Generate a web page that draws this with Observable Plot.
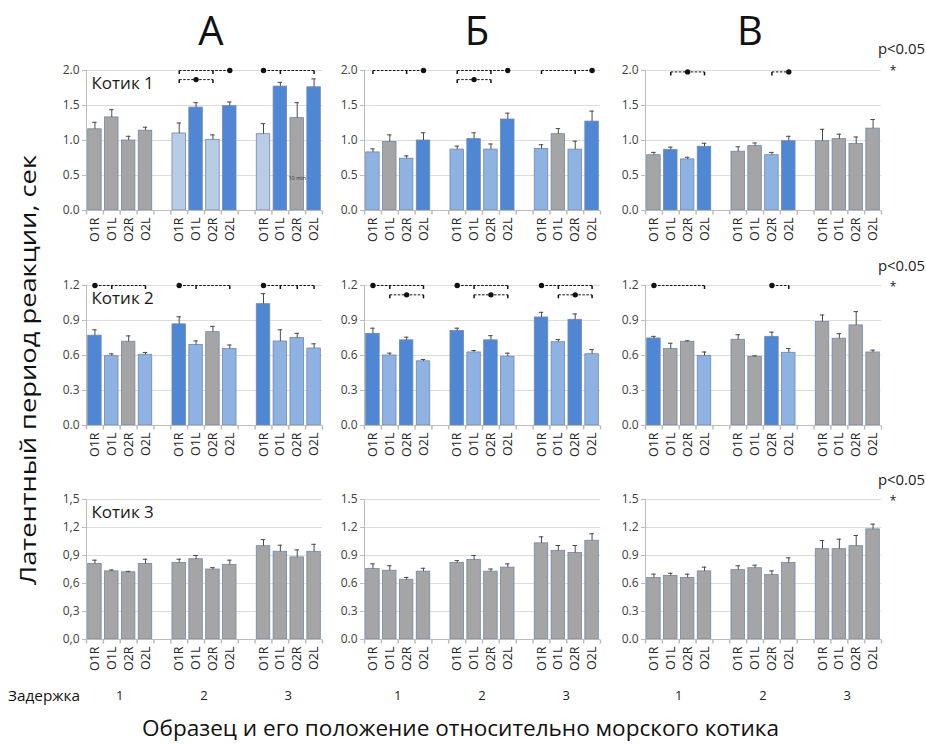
<!DOCTYPE html>
<html><head><meta charset="utf-8">
<script src="https://cdn.jsdelivr.net/npm/d3@7"></script>
<script src="https://cdn.jsdelivr.net/npm/@observablehq/plot@0.6"></script>
<style>
body{margin:0;background:#fff;}
#root{position:relative;width:926px;height:745px;overflow:hidden;background:#fff;font-family:"Open Sans",sans-serif}
#root > svg, #root > div{position:absolute}
</style></head><body><div id="root"></div>
<script>
// ---------- categories ----------
const samples = ["O1R","O1L","O2R","O2L"];
const delays = [1,2,3];
const columnTitles = ["А","Б","В"];
const animals = ["Котик 1","Котик 2","Котик 3"];
const yMax = [2.0, 1.2, 1.5];
const yTicks = [[0,0.5,1,1.5,2],[0,0.3,0.6,0.9,1.2],[0,0.3,0.6,0.9,1.2,1.5]];
const yLabel = "Латентный период реакции, сек";
const xLabel = "Образец и его положение относительно морского котика";
const delayLabel = "Задержка";
const sigLabel = "p<0.05";
const sigStar = "*";
const note10 = "10 min";

// ---------- values (order: delay 1 O1R,O1L,O2R,O2L, delay 2 ..., delay 3 ...) ----------
// colour codes: g = grey, d = dark blue, m = mid blue, p = pale blue
const k1A_mean = [1.16,1.33,1.00,1.14, 1.10,1.47,1.01,1.49, 1.09,1.77,1.32,1.76];
const k1A_err  = [0.10,0.11,0.06,0.05, 0.15,0.07,0.07,0.06, 0.15,0.06,0.22,0.12];
const k1A_col  = ["g","g","g","g", "p","d","p","d", "p","d","g","d"];
const k1B_mean = [0.83,0.98,0.74,1.00, 0.87,1.02,0.87,1.30, 0.88,1.09,0.87,1.27];
const k1B_err  = [0.05,0.10,0.04,0.11, 0.05,0.09,0.08,0.09, 0.06,0.08,0.12,0.15];
const k1B_col  = ["m","g","m","d", "m","d","m","d", "m","g","m","d"];
const k1C_mean = [0.79,0.865,0.73,0.91, 0.84,0.92,0.79,0.99, 0.99,1.02,0.95,1.17];
const k1C_err  = [0.04,0.04,0.03,0.05, 0.07,0.045,0.04,0.07, 0.17,0.07,0.10,0.13];
const k1C_col  = ["g","d","m","d", "g","g","m","d", "g","g","g","g"];

const k2A_mean = [0.77,0.594,0.718,0.606, 0.867,0.69,0.80,0.655, 1.04,0.72,0.75,0.66];
const k2A_err  = [0.05,0.02,0.05,0.02, 0.065,0.035,0.05,0.035, 0.09,0.10,0.04,0.04];
const k2A_col  = ["d","m","g","m", "d","m","g","m", "d","m","m","m"];
const k2B_mean = [0.786,0.60,0.73,0.55, 0.81,0.626,0.73,0.59, 0.926,0.714,0.906,0.611];
const k2B_err  = [0.048,0.02,0.027,0.016, 0.024,0.017,0.04,0.03, 0.044,0.023,0.05,0.04];
const k2B_col  = ["d","m","d","m", "d","m","d","m", "d","m","d","m"];
const k2C_mean = [0.746,0.655,0.718,0.597, 0.735,0.589,0.76,0.623, 0.887,0.744,0.858,0.626];
const k2C_err  = [0.018,0.05,0.008,0.033, 0.043,0.008,0.04,0.037, 0.06,0.043,0.118,0.02];
const k2C_col  = ["d","g","g","m", "g","g","d","m", "g","g","g","g"];

const k3A_mean = [0.81,0.73,0.72,0.81, 0.82,0.86,0.75,0.80, 1.00,0.94,0.88,0.94];
const k3A_err  = [0.04,0.015,0.01,0.05, 0.04,0.04,0.02,0.05, 0.07,0.07,0.08,0.08];
const k3B_mean = [0.755,0.737,0.64,0.727, 0.82,0.853,0.727,0.77, 1.03,0.95,0.928,1.058];
const k3B_err  = [0.055,0.053,0.025,0.036, 0.025,0.047,0.028,0.04, 0.07,0.057,0.079,0.075];
const k3C_mean = [0.66,0.68,0.66,0.73, 0.746,0.764,0.69,0.82, 0.968,0.968,1.00,1.18];
const k3C_err  = [0.04,0.03,0.04,0.045, 0.044,0.032,0.045,0.055, 0.092,0.107,0.114,0.056];
const k3_col   = ["g","g","g","g", "g","g","g","g", "g","g","g","g"];

// significance brackets: delay, level, reference (dot), compared bars (ticks)
const k1A_sig = [{d:2,y:2.0,dot:"O2L",ticks:["O1R","O2R"]},{d:2,y:1.87,dot:"O1L",ticks:["O1R","O2R"]},{d:3,y:2.0,dot:"O1R",ticks:["O1L","O2L"]}];
const k1B_sig = [{d:1,y:2.0,dot:"O2L",ticks:["O1R","O2R"]},{d:2,y:2.0,dot:"O2L",ticks:["O1R","O2R"]},{d:2,y:1.87,dot:"O1L",ticks:["O1R","O2R"]},{d:3,y:2.0,dot:"O2L",ticks:["O1R","O2R"]}];
const k1C_sig = [{d:1,y:1.98,dot:"O2R",ticks:["O1L","O2L"]},{d:2,y:1.98,dot:"O2L",ticks:["O2R"]}];
const k2A_sig = [{d:1,y:1.2,dot:"O1R",ticks:["O1L","O2L"]},{d:2,y:1.2,dot:"O1R",ticks:["O1L","O2L"]},{d:3,y:1.2,dot:"O1R",ticks:["O1L","O2R","O2L"]}];
const k2B_sig = [{d:1,y:1.2,dot:"O1R",ticks:["O1L","O2L"]},{d:1,y:1.12,dot:"O2R",ticks:["O1L","O2L"]},
                 {d:2,y:1.2,dot:"O1R",ticks:["O1L","O2L"]},{d:2,y:1.12,dot:"O2R",ticks:["O1L","O2L"]},
                 {d:3,y:1.2,dot:"O1R",ticks:["O1L","O2L"]},{d:3,y:1.12,dot:"O2R",ticks:["O1L","O2L"]}];
const k2C_sig = [{d:1,y:1.2,dot:"O1R",ticks:["O2L"]},{d:2,y:1.2,dot:"O2R",ticks:["O2L"]}];

const k1A_note = [{d:3,s:"O2R",y:0.46,t:note10}];

// ---------- assembly ----------
const MEANS = [[k1A_mean,k1B_mean,k1C_mean],[k2A_mean,k2B_mean,k2C_mean],[k3A_mean,k3B_mean,k3C_mean]];
const ERRS  = [[k1A_err,k1B_err,k1C_err],[k2A_err,k2B_err,k2C_err],[k3A_err,k3B_err,k3C_err]];
const COLS  = [[k1A_col,k1B_col,k1C_col],[k2A_col,k2B_col,k2C_col],[k3_col,k3_col,k3_col]];
const SIGS  = [[k1A_sig,k1B_sig,k1C_sig],[k2A_sig,k2B_sig,k2C_sig],[[],[],[]]];
const NOTES = [[k1A_note,[],[]],[[],[],[]],[[],[],[]]];

const PALETTE = {g:"#a5a5a5", d:"#4f87d5", m:"#8eb3e2", p:"#b8cce6"};
const EDGE = "#7088ad", ERRC = "#4a4a4a", AXIS = "#bcbcbc", GRID = "#dcdcdc", INK = "#111";

const ROW_TOP = [70, 285, 499];
const COL_AXIS = [86, 364, 645];
const ML = 40, MR = 10, MT = 22, MB = 44, IW = 236, IH = 140;
const FONT = '"Open Sans", sans-serif';

const root = document.getElementById("root");
const key = (d, s) => `${d}|${s}`;
const domain = [];
delays.forEach((d, gi) => { if (gi) domain.push(`gap${gi}`); samples.forEach(s => domain.push(key(d, s))); });
const realKeys = domain.filter(k => k.includes("|"));
const step = IW / domain.length;
const stub = len => ({draw(ctx){ ctx.moveTo(0, 0); ctx.lineTo(0, len); }});

const groupCenters = [];

function drawPanel(r, c) {
  const mean = MEANS[r][c], err = ERRS[r][c], col = COLS[r][c], sig = SIGS[r][c], notes = NOTES[r][c];
  const rows = [];
  delays.forEach((d, gi) => samples.forEach((s, si) => {
    const i = gi * samples.length + si;
    rows.push({k: key(d, s), v: mean[i], e: err[i], f: PALETTE[col[i]]});
  }));
  const order = s => samples.indexOf(s);
  const lines = sig.map(b => {
    const all = [...b.ticks, b.dot].sort((a, z) => order(a) - order(z));
    return {k1: key(b.d, all[0]), k2: key(b.d, all[all.length - 1]), y: b.y};
  });
  const stubs = sig.flatMap(b => b.ticks.map(s => ({k: key(b.d, s), y: b.y})));
  const dots = sig.map(b => ({k: key(b.d, b.dot), y: b.y}));
  const fmt = v => { const s = d3.format(".1f")(v); return (r === 2 && c === 0) ? s.replace(".", ",") : s; };

  const marks = [
    Plot.gridY({ticks: yTicks[r], stroke: GRID, strokeOpacity: 1}),
    Plot.barY(rows, {x: "k", y: "v", fill: "f", stroke: EDGE, strokeWidth: 0.8}),
    Plot.ruleX(rows, {x: "k", y1: "v", y2: d => d.v + d.e, stroke: ERRC, strokeWidth: 1}),
    Plot.tickY(rows, {x: "k", y: d => d.v + d.e, stroke: ERRC, strokeWidth: 1, insetLeft: 4.5, insetRight: 4.5}),
    Plot.ruleY([0], {stroke: AXIS}),
    Plot.frame({anchor: "left", stroke: AXIS}),
    Plot.dot(domain, {x: k => k, y: () => 0, symbol: stub(4), stroke: AXIS, fill: "none", dx: -step / 2}),
    Plot.dot([domain[domain.length - 1]], {x: k => k, y: () => 0, symbol: stub(4), stroke: AXIS, fill: "none", dx: step / 2}),
    Plot.axisY({ticks: yTicks[r], tickFormat: fmt, tickSize: 4, tickPadding: 3, stroke: AXIS, fill: "#404040", fontSize: 12, label: null}),
    Plot.axisX({ticks: realKeys, tickFormat: k => k.split("|")[1], tickRotate: -90, tickSize: 0, tickPadding: 7, fill: "#262626", fontSize: 12.5, label: null}),
    Plot.link(lines, {x1: "k1", x2: "k2", y1: "y", y2: "y", stroke: INK, strokeWidth: 1, strokeDasharray: "2.5,1.5"}),
    Plot.dot(stubs, {x: "k", y: "y", symbol: stub(3.5), stroke: INK, fill: "none"}),
    Plot.dot(dots, {x: "k", y: "y", r: 2.7, fill: INK}),
    Plot.text(notes, {x: n => key(n.d, n.s), y: "y", text: "t", fontSize: 5.5, fill: "#333"})
  ];
  if (c === 0) marks.push(Plot.text([animals[r]], {frameAnchor: "top-left", dx: 5, dy: 6, fontSize: 17, fill: "#1a1a1a", lineAnchor: "top"}));

  const plot = Plot.plot({
    width: ML + IW + MR, height: MT + IH + MB,
    marginLeft: ML, marginRight: MR, marginTop: MT, marginBottom: MB,
    x: {type: "band", domain, paddingInner: 0.2, paddingOuter: 0.1, round: false},
    y: {domain: [0, yMax[r]]},
    color: {type: "identity"},
    style: {background: "transparent", overflow: "visible", fontFamily: FONT, color: "#404040"},
    marks
  });
  const left = COL_AXIS[c] - ML, top = ROW_TOP[r] - MT;
  plot.style.position = "absolute";
  plot.style.left = left + "px";
  plot.style.top = top + "px";
  root.appendChild(plot);
  if (r === 2) {
    const sx = plot.scale("x");
    delays.forEach(d => groupCenters.push({d, x: left + (sx.apply(key(d, samples[0])) + sx.apply(key(d, samples[samples.length - 1])) + sx.bandwidth) / 2}));
  }
}

for (let r = 0; r < 3; r++) for (let c = 0; c < 3; c++) drawPanel(r, c);

// ---------- overlay text ----------
const NS = "http://www.w3.org/2000/svg";
const ov = document.createElementNS(NS, "svg");
ov.setAttribute("width", 926); ov.setAttribute("height", 745);
ov.style.left = "0px"; ov.style.top = "0px"; ov.style.pointerEvents = "none"; ov.style.position = "absolute";
root.appendChild(ov);
function txt(s, x, y, opts = {}) {
  const t = document.createElementNS(NS, "text");
  t.textContent = s;
  t.setAttribute("x", x); t.setAttribute("y", y);
  t.setAttribute("font-family", FONT);
  t.setAttribute("font-size", opts.size || 13);
  t.setAttribute("fill", opts.fill || "#111");
  t.setAttribute("text-anchor", opts.anchor || "start");
  if (opts.len) { t.setAttribute("textLength", opts.len); t.setAttribute("lengthAdjust", "spacingAndGlyphs"); }
  if (opts.rotate) t.setAttribute("transform", `rotate(${opts.rotate},${x},${y})`);
  ov.appendChild(t);
  return t;
}
const titleX = [211, 477, 750];
columnTitles.forEach((s, i) => txt(s, titleX[i], 45, {size: 40, anchor: "middle", fill: "#111"}));
const sigY = [54, 271, 485], starY = [75, 291, 505];
sigY.forEach((y, i) => { txt(sigLabel, 878, y, {size: 14.5, fill: "#222", len: 47}); txt(sigStar, 893, starY[i], {size: 12, anchor: "middle", fill: "#222"}); });
txt(delayLabel, 8, 701, {size: 15, fill: "#111", len: 72});
groupCenters.forEach(g => txt(String(g.d), g.x, 700, {size: 13, anchor: "middle", fill: "#222"}));
txt(xLabel, 142, 736, {size: 22, fill: "#111", len: 637});
txt(yLabel, 36, 585, {size: 22, fill: "#111", len: 430, rotate: -90});
</script></body></html>
